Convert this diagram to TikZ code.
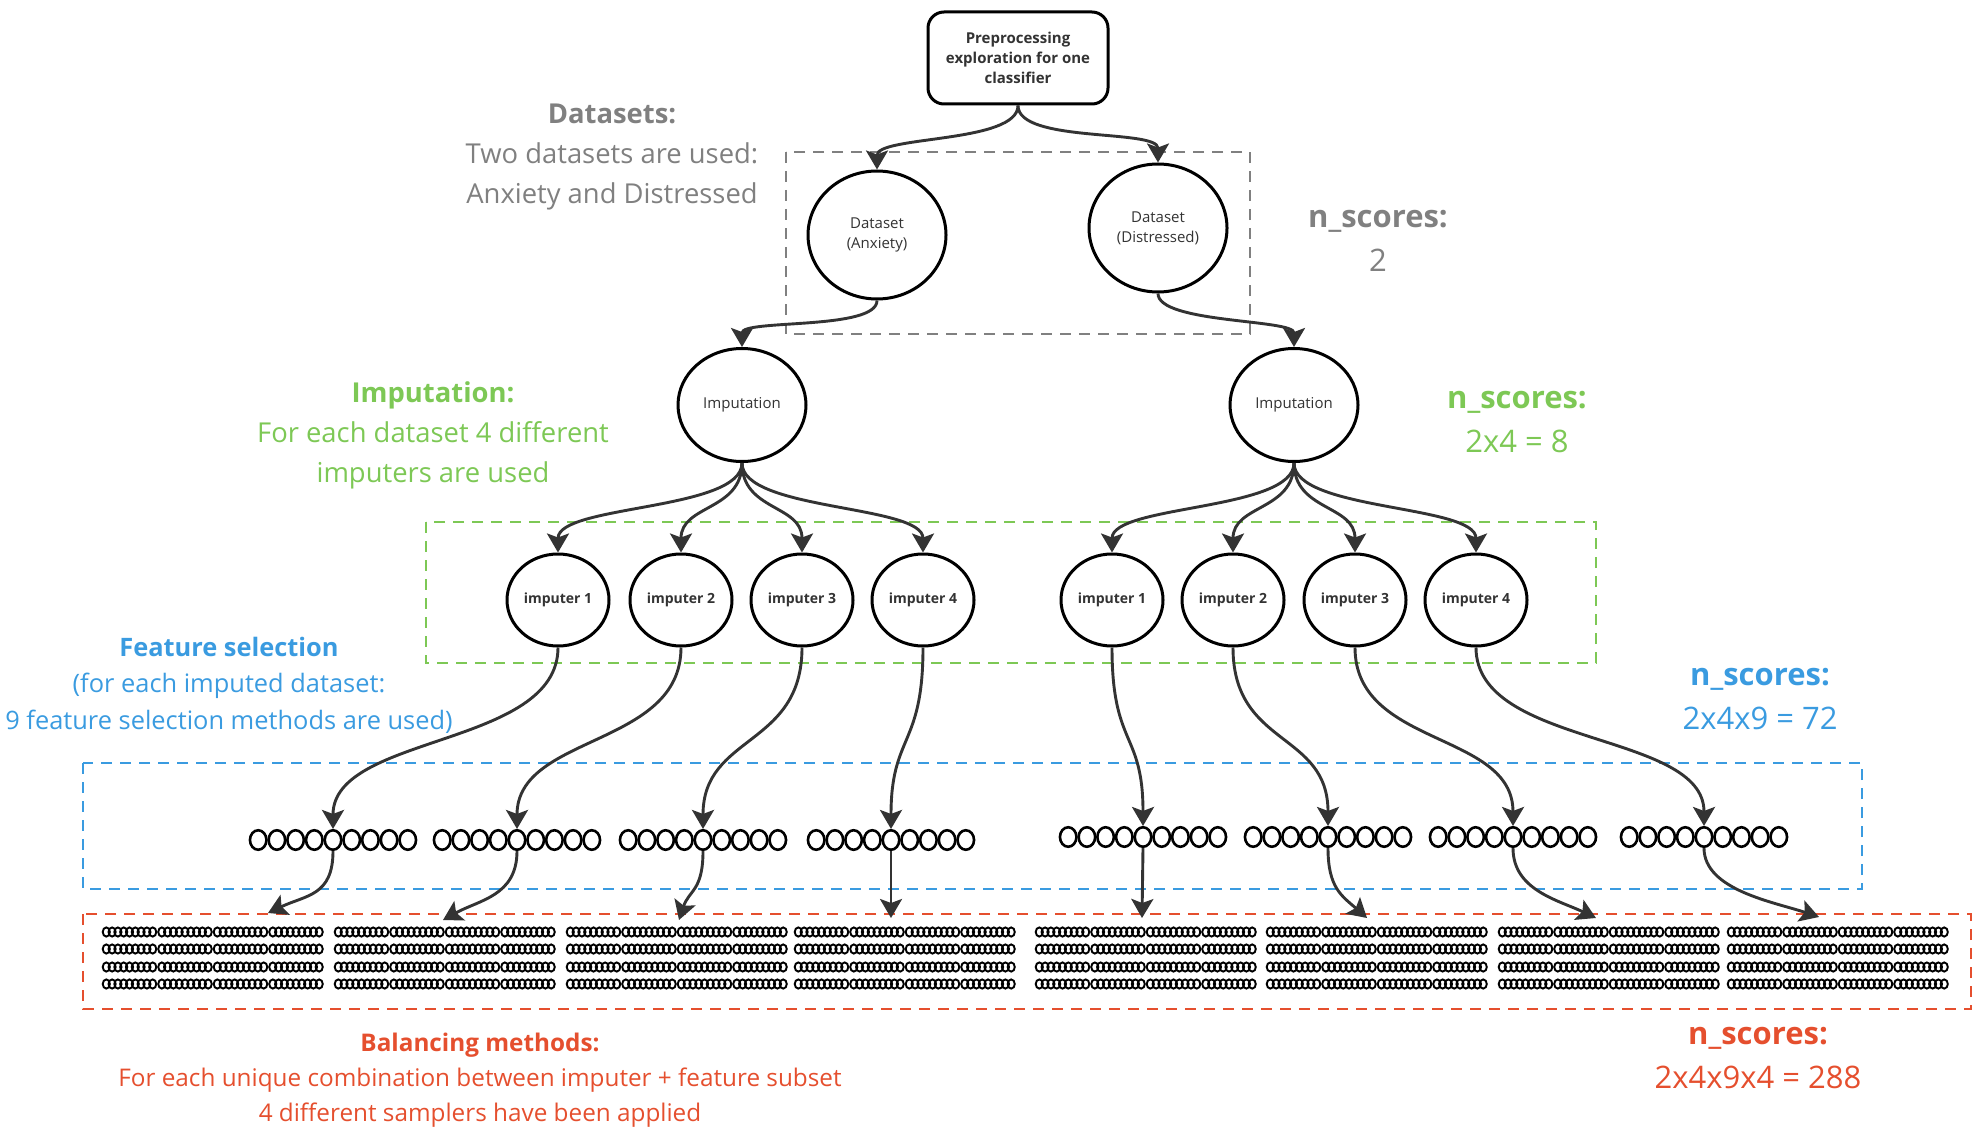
\documentclass[tikz,border=0pt]{standalone}
\usepackage{fontspec}
\setmainfont{Open Sans}
\usetikzlibrary{arrows.meta,shapes.geometric}
\definecolor{ctext}{HTML}{333333}
\definecolor{carrow}{HTML}{333333}
\definecolor{cgray}{HTML}{808080}
\definecolor{cgreen}{HTML}{7DC855}
\definecolor{cblue}{HTML}{3A9BE0}
\definecolor{cred}{HTML}{E54F2E}
\begin{document}
\begin{tikzpicture}[x=1pt,y=-1pt,
  arr/.style={draw=carrow, line width=2.9pt, -{Stealth[length=19pt,width=22pt,inset=4pt]}},
  bignode/.style={ellipse, draw=black, fill=white, line width=3pt, inner sep=0pt, align=center, text=ctext},
  dsnode/.style={bignode, minimum width=138pt, minimum height=128pt, font=\fontsize{15}{20}\selectfont},
  impnode/.style={bignode, minimum width=128pt, minimum height=113pt, font=\fontsize{15}{20}\selectfont},
  imputer/.style={bignode, minimum width=102pt, minimum height=92pt, font=\bfseries\fontsize{14}{18}\selectfont},
  midc/.style={ellipse, draw=black, fill=white, line width=2.6pt, inner sep=0pt, minimum width=16.5pt, minimum height=19.5pt},
  frame/.style={line width=2.6pt, dash pattern=on 11pt off 8pt},
  ns/.style={align=center, font=\fontsize{31}{44}\selectfont},
  note/.style={align=center, font=\fontsize{27.4}{40}\selectfont},
]
\useasboundingbox (0,0) rectangle (1983,1134);

% dashed frames
\draw[frame, draw=cgray] (786,152) rectangle (1250,334);
\draw[frame, draw=cgreen] (426,522) rectangle (1596,663);
\draw[frame, draw=cblue] (83,763) rectangle (1862,889);
\draw[frame, draw=cred] (83,914) rectangle (1971,1009);

% top box
\node[draw=black, fill=white, line width=3pt, rounded corners=16pt, minimum width=180pt, minimum height=92pt, align=center, text=ctext, font=\bfseries\fontsize{15}{20}\selectfont] (top) at (1018,58) {Preprocessing\\exploration for one\\classifier};

% datasets
\node[dsnode] (dsA) at (877,235) {Dataset\\(Anxiety)};
\node[dsnode] (dsD) at (1158,228) {Dataset\\(Distressed)};

% imputation
\node[impnode] (impA) at (742,405) {Imputation};
\node[impnode] (impD) at (1294,405) {Imputation};

% imputers
\foreach \i/\x in {1/558,2/681,3/802,4/923} {
  \node[imputer] (iA\i) at (\x,600) {imputer \i};
}
\foreach \i/\x in {1/1112,2/1233,3/1355,4/1476} {
  \node[imputer] (iD\i) at (\x,600) {imputer \i};
}

% feature selection circles
\foreach \g/\cx/\cy in {1/333/840,2/517/840,3/703/840,4/891/840,5/1143/837,6/1328/837,7/1513/837,8/1704/837} {
  \foreach \k in {1,...,9} {
    \node[midc] (c\g-\k) at ({\cx+(\k-5)*18.7},\cy) {};
  }
}

% balancing chains
\foreach \gx in {102,334,566,794,1035,1266,1498,1727} {
  \foreach \col in {0,1,2,3} {
    \foreach \ry in {932,949,967,984} {
      \foreach \k in {0,...,8} {
        \draw[line width=1.9pt] ({\gx+\col*55.5+4.3+\k*5.8},\ry) ellipse [x radius=3.6pt, y radius=4.6pt];
      }
    }
  }
}

% arrows: top -> datasets
\draw[arr] (top.south) .. controls +(0,38) and +(0,-34) .. (dsA.north);
\draw[arr] (top.south) .. controls +(0,38) and +(0,-34) .. (dsD.north);

% datasets -> imputation
\draw[arr] (dsA.south) .. controls +(0,30) and +(0,-28) .. (impA.north);
\draw[arr] (dsD.south) .. controls +(0,30) and +(0,-28) .. (impD.north);

% imputation -> imputers
\foreach \i in {1,2,3,4} {
  \draw[arr] (impA.south) .. controls +(0,48) and +(0,-48) .. (iA\i.north);
  \draw[arr] (impD.south) .. controls +(0,48) and +(0,-48) .. (iD\i.north);
}

% imputers -> feature selection
\foreach \i in {1,2,3,4} {
  \draw[arr] (iA\i.south) .. controls +(0,100) and +(0,-95) .. (c\i-5.north);
}
\foreach \i/\g in {1/5,2/6,3/7,4/8} {
  \draw[arr] (iD\i.south) .. controls +(0,100) and +(0,-95) .. (c\g-5.north);
}

% feature selection -> balancing
\coordinate (r1) at (268,913);
\coordinate (r2) at (443,920);
\coordinate (r3) at (679,920);
\coordinate (r4) at (891,918);
\coordinate (r5) at (1142,918);
\coordinate (r6) at (1367,918);
\coordinate (r7) at (1596,918);
\coordinate (r8) at (1819,917);
\draw[arr] (c1-5.south) .. controls +(0,45) and +(38,-18) .. (r1);
\draw[arr] (c2-5.south) .. controls +(0,45) and +(36,-20) .. (r2);
\draw[arr] (c3-5.south) .. controls +(0,40) and +(10,-30) .. (r3);
\draw[arr] (c4-5.south) -- (r4);
\draw[arr] (c5-5.south) -- (r5);
\draw[arr] (c6-5.south) .. controls +(0,40) and +(-25,-22) .. (r6);
\draw[arr] (c7-5.south) .. controls +(0,42) and +(-38,-18) .. (r7);
\draw[arr] (c8-5.south) .. controls +(0,42) and +(-45,-15) .. (r8);

% texts
\node[note, text=cgray] (tData) at (612,157) {\textbf{Datasets:}\\Two datasets are used:\\Anxiety and Distressed};
\node[ns, text=cgray] (nsData) at (1378,241) {\textbf{n\_scores:}\\2};
\node[note, text=cgreen] (tImp) at (433,435) {\textbf{Imputation:}\\For each dataset 4 different\\imputers are used};
\node[ns, text=cgreen] (nsImp) at (1517,422) {\textbf{n\_scores:}\\2x4 = 8};
\node[align=center, font=\fontsize{25.4}{36.5}\selectfont, text=cblue] (tFeat) at (229,685) {\textbf{Feature selection}\\(for each imputed dataset:\\9 feature selection methods are used)};
\node[ns, text=cblue] (nsFeat) at (1760,699) {\textbf{n\_scores:}\\2x4x9 = 72};
\node[align=center, font=\fontsize{24.3}{35}\selectfont, text=cred] (tBal) at (480,1080) {\textbf{Balancing methods:}\\For each unique combination between imputer + feature subset\\4 different samplers have been applied};
\node[ns, text=cred] (nsBal) at (1758,1058) {\textbf{n\_scores:}\\2x4x9x4 = 288};
\end{tikzpicture}
\end{document}
